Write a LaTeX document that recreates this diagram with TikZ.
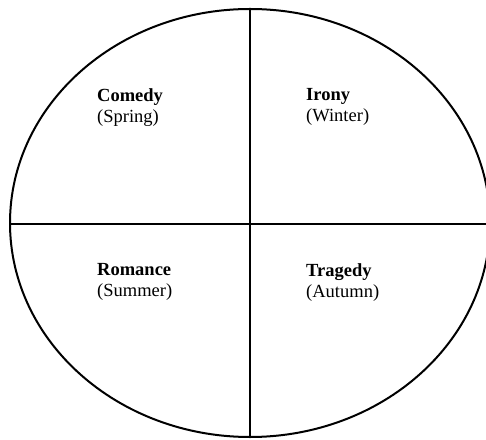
\documentclass[tikz,border=0pt]{standalone}
\usepackage{fontspec}
\setmainfont{Liberation Serif}
\begin{document}
\begin{tikzpicture}[x=1pt,y=1pt,
  lbl/.style={anchor=north west,inner sep=0pt,align=left,font=\fontsize{18.5}{21}\selectfont},
  stroke/.style={line width=2pt,black}]
\useasboundingbox (0,0) rectangle (486,439);
\coordinate (c) at (250,216);
\coordinate (top) at (250,430);
\coordinate (bot) at (250,2);
\coordinate (left) at (10,215);
\coordinate (right) at (486,215);
\draw[stroke] (c) ellipse [x radius=240,y radius=214];
\draw[stroke] (top) -- (bot);
\draw[stroke] (left) -- (right);
\node[lbl] (comedy) at (97,351) {\textbf{Comedy}\\(Spring)};
\node[lbl] (irony) at (306,351) {\textbf{Irony}\\(Winter)};
\node[lbl] (romance) at (97,176) {\textbf{Romance}\\(Summer)};
\node[lbl] (tragedy) at (306,176) {\textbf{Tragedy}\\(Autumn)};
\end{tikzpicture}
\end{document}
